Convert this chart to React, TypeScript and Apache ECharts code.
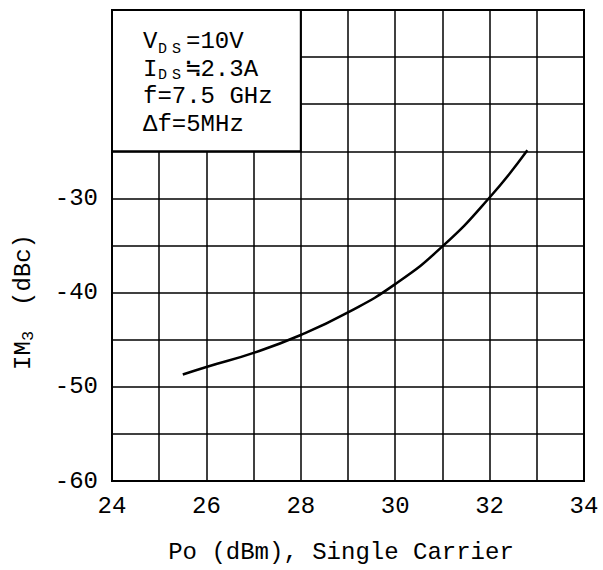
import React, { useEffect, useRef } from 'react';
import * as echarts from 'echarts';

// Data
const poDbm = [25.5, 26, 27, 28, 29, 30, 31, 32, 32.8];
const im3Dbc = [-48.7, -47.9, -46.4, -44.5, -42.1, -39.1, -35.1, -29.9, -24.9];
const xTickLabels = [24, 26, 28, 30, 32, 34];
const yTickLabels = [-60, -50, -40, -30];
const legendBoxX = [24, 28];
const legendBoxY = [-25, -10];

const FONT = "'Liberation Mono', 'DejaVu Sans Mono', monospace";

export default function App() {
  const ref = useRef<HTMLDivElement>(null);
  useEffect(() => {
    document.body.style.margin = '0';
    const chart = echarts.init(ref.current!, null, { renderer: 'svg' });
    const txt = (x: number, y: number, text: string, size = 24, extra: any = {}) => ({
      type: 'text',
      x,
      y,
      z: 100,
      style: {
        text,
        fill: '#000',
        font: `${size}px ${FONT}`,
        align: 'left',
        verticalAlign: 'middle',
        ...extra,
      },
    });
    const option: any = {
      animation: false,
      backgroundColor: '#fff',
      grid: {
        left: 112,
        right: 19,
        top: 10,
        bottom: 89,
        show: true,
        borderColor: '#000',
        borderWidth: 2,
      },
      xAxis: {
        type: 'value',
        min: 24,
        max: 34,
        interval: 1,
        axisLine: { show: true, lineStyle: { color: '#000', width: 2 } },
        axisTick: { show: false },
        splitLine: { show: true, lineStyle: { color: '#000', width: 1.5 } },
        axisLabel: {
          margin: 13,
          color: '#000',
          fontSize: 24,
          fontFamily: FONT,
          showMinLabel: true,
          showMaxLabel: true,
          formatter: (v: number) => (xTickLabels.includes(v) ? String(v) : ''),
        },
      },
      yAxis: {
        type: 'value',
        min: -60,
        max: -10,
        interval: 5,
        axisLine: { show: true, lineStyle: { color: '#000', width: 2 } },
        axisTick: { show: false },
        splitLine: { show: true, lineStyle: { color: '#000', width: 1.5 } },
        axisLabel: {
          margin: 14,
          color: '#000',
          fontSize: 24,
          fontFamily: FONT,
          formatter: (v: number) => (yTickLabels.includes(v) ? String(v) : ''),
        },
      },
      series: [
        {
          type: 'line',
          data: poDbm.map((x, i) => [x, im3Dbc[i]]),
          smooth: true,
          showSymbol: false,
          lineStyle: { color: '#000', width: 2.5 },
          markArea: {
            silent: true,
            itemStyle: { color: '#fff', borderColor: '#000', borderWidth: 2, opacity: 1 },
            data: [
              [
                { xAxis: legendBoxX[0], yAxis: legendBoxY[0] },
                { xAxis: legendBoxX[1], yAxis: legendBoxY[1] },
              ],
            ],
          },
        },
      ],
      graphic: [
        // legend block
        txt(143, 41, 'V', 24),
        txt(158, 49, 'D', 15),
        txt(172, 49, 'S', 15),
        txt(186, 41, '=10V', 24),
        txt(143, 69, 'I', 24),
        txt(158, 75, 'D', 15),
        txt(172, 75, 'S', 15),
        txt(186, 69, '≒2.3A', 24),
        txt(143, 96, 'f=7.5 GHz', 24),
        txt(143, 124, 'Δf=5MHz', 24),
        // x axis title
        txt(341, 552, 'Po (dBm), Single Carrier', 24, { align: 'center' }),
        // y axis title (rotated)
        {
          type: 'group',
          x: 23,
          y: 305,
          rotation: Math.PI / 2,
          z: 100,
          children: [
            txt(-65, 0, 'IM', 24),
            txt(-36, 5, '3', 17),
            txt(-1, 0, '(dBc)', 24),
          ],
        },
      ],
    };
    chart.setOption(option);
    return () => chart.dispose();
  }, []);
  return <div ref={ref} style={{ width: 603, height: 570 }} />;
}
